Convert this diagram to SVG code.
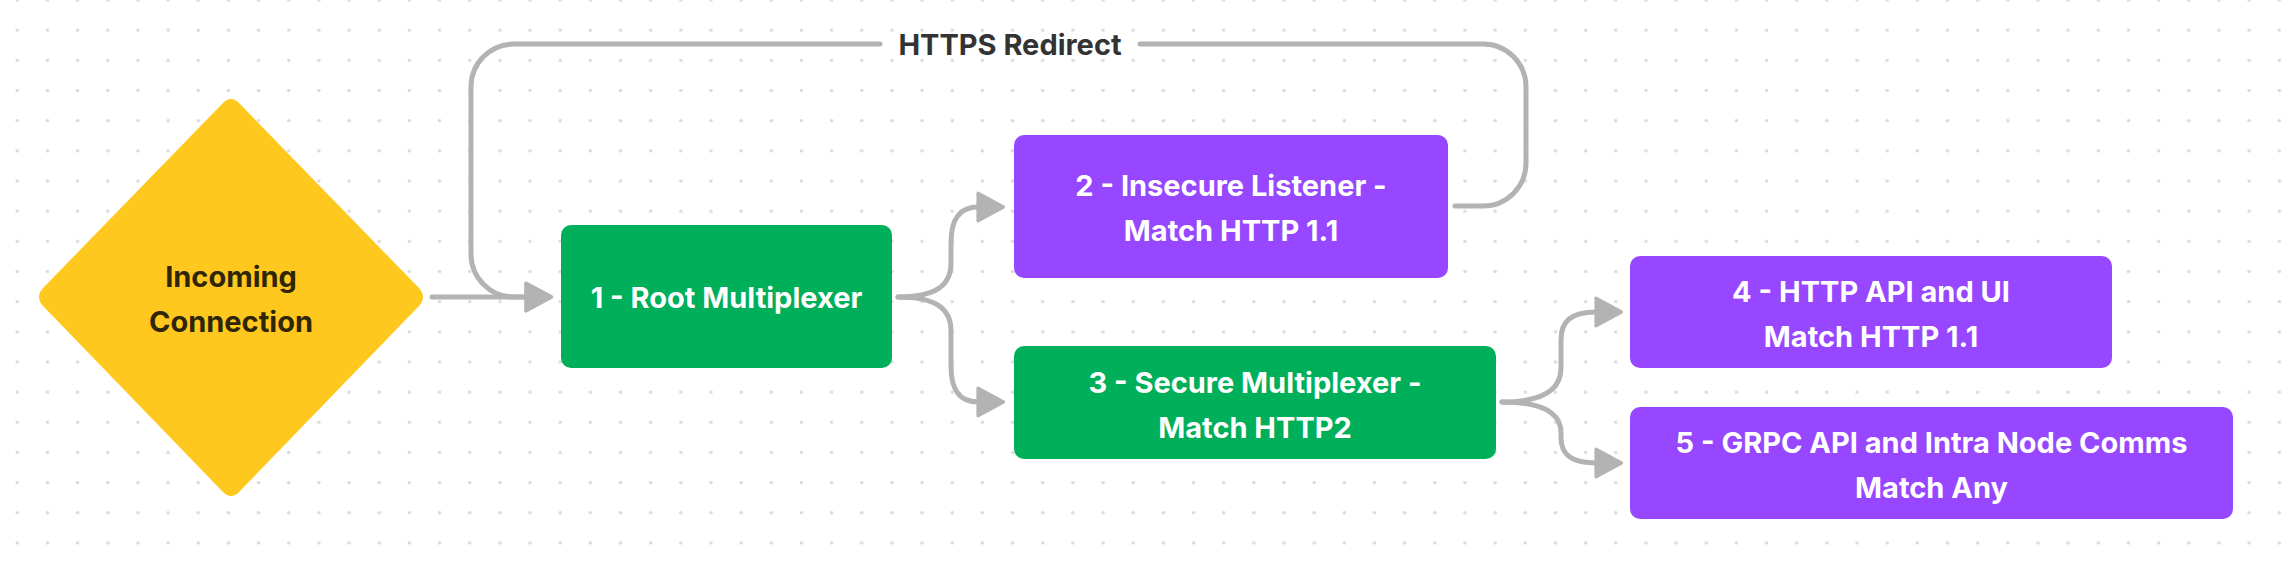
<svg xmlns="http://www.w3.org/2000/svg" width="2292" height="564" viewBox="0 0 2292 564">
<defs>
<pattern id="dots" patternUnits="userSpaceOnUse" x="2.22" y="-15.08" width="30.16" height="30.16">
<circle cx="15.08" cy="15.08" r="1.8" fill="#dcdcdc"/>
</pattern>
<marker id="arrow" markerUnits="userSpaceOnUse" markerWidth="32" markerHeight="34" viewBox="-2 -16 30 32" refX="0" refY="0" orient="auto">
<path d="M0,-13 L24,0 L0,13 Z" fill="#b3b3b3" stroke="#b3b3b3" stroke-width="3" stroke-linejoin="round"/>
</marker>
<style>
.lbl{font-family:Inter,"Noto Sans","Liberation Sans",sans-serif;font-weight:700;font-size:29px;text-anchor:middle;fill:#ffffff}
.dark{fill:#2f2607}
.edge{fill:none;stroke:#b3b3b3;stroke-width:5;stroke-linecap:round;stroke-linejoin:round}
.green{fill:#00af5a}
.purple{fill:#9747ff}
</style>
</defs>
<rect width="2292" height="564" fill="#ffffff"/>
<rect width="2292" height="564" fill="url(#dots)"/>
<g id="connectors">
<path class="edge" d="M432,297 H526" marker-end="url(#arrow)"/>
<path class="edge" d="M1455,206 H1483 A43,43 0 0 0 1526,163 V87 A43,43 0 0 0 1483,44 H1140 M880,44 H514 A43,43 0 0 0 471,87 V254 A43,43 0 0 0 514,297 H526" marker-end="url(#arrow)"/>
<text class="lbl" x="1010" y="55" style="fill:#333333">HTTPS Redirect</text>
<path class="edge" d="M898,297 C935,297 951,286 951,263 V243 C951,221 958,207 978,207" marker-end="url(#arrow)"/>
<path class="edge" d="M898,297 C935,297 951,308 951,331 V366 C951,388 958,402 978,402" marker-end="url(#arrow)"/>
<path class="edge" d="M1502,402 C1540,402 1561,391 1561,368 V340 C1561,322 1570,312 1596,312" marker-end="url(#arrow)"/>
<path class="edge" d="M1502,402 C1540,402 1561,412 1561,433 V438 C1561,455 1572,463 1596,463" marker-end="url(#arrow)"/>
</g>
<g id="node-incoming">
<path d="M222,104 Q231,94 240,104 L419,288 Q427,297 419,306 L240,491 Q231,501 222,491 L43,306 Q35,297 43,288 Z" fill="#ffc81f"/>
<text class="lbl dark" x="231" y="287">Incoming</text>
<text class="lbl dark" x="231" y="332">Connection</text>
</g>
<g id="node-1">
<rect class="green" x="561" y="225" width="331" height="143" rx="10"/>
<text class="lbl" x="726.5" y="308">1 - Root Multiplexer</text>
</g>
<g id="node-2">
<rect class="purple" x="1014" y="135" width="434" height="143" rx="10"/>
<text class="lbl" x="1231" y="196">2 - Insecure Listener -</text>
<text class="lbl" x="1231" y="241">Match HTTP 1.1</text>
</g>
<g id="node-3">
<rect class="green" x="1014" y="346" width="482" height="113" rx="10"/>
<text class="lbl" x="1255" y="393">3 - Secure Multiplexer -</text>
<text class="lbl" x="1255" y="438">Match HTTP2</text>
</g>
<g id="node-4">
<rect class="purple" x="1630" y="256" width="482" height="112" rx="10"/>
<text class="lbl" x="1871" y="302">4 - HTTP API and UI</text>
<text class="lbl" x="1871" y="347">Match HTTP 1.1</text>
</g>
<g id="node-5">
<rect class="purple" x="1630" y="407" width="603" height="112" rx="10"/>
<text class="lbl" x="1931.5" y="452.5">5 - GRPC API and Intra Node Comms</text>
<text class="lbl" x="1931.5" y="497.5">Match Any</text>
</g>
</svg>
